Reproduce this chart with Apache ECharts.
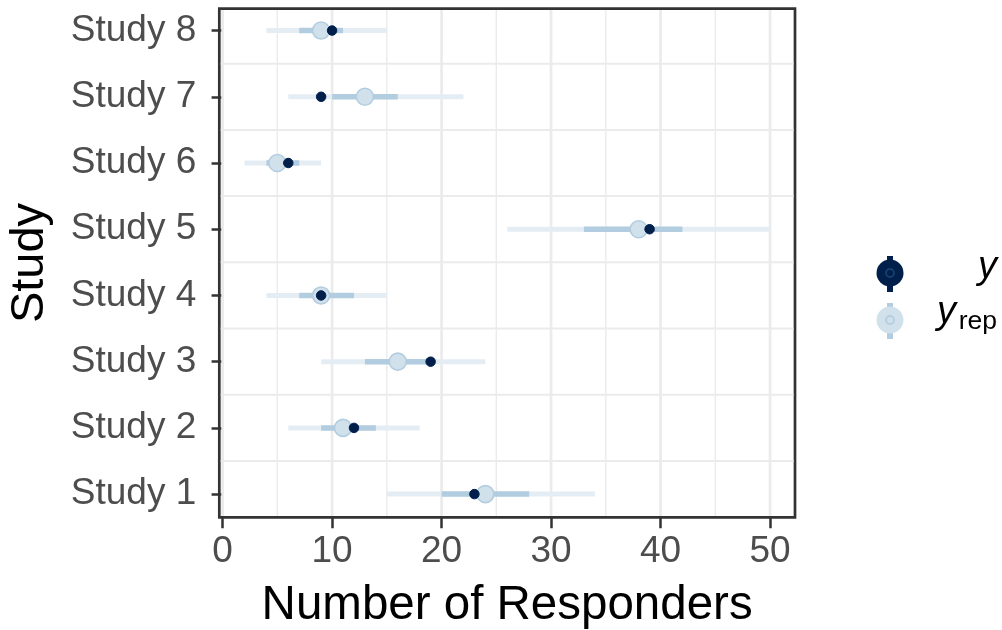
<!DOCTYPE html>
<html>
<head>
<meta charset="utf-8">
<script src="https://cdn.jsdelivr.net/npm/echarts@6/dist/echarts.min.js"></script>
<style>html,body{margin:0;padding:0;background:#fff;}#c{width:1002px;height:630px;}</style>
</head>
<body>
<div id="c"></div>
<script>
const studies = ['Study 1','Study 2','Study 3','Study 4','Study 5','Study 6','Study 7','Study 8'];
const studyPos = [1,2,3,4,5,6,7,8];
const yObs = [23,12,19,9,39,6,9,10];
const yrepMedian = [24,11,16,9,38,5,13,9];
const inner50Low = [20,9,13,7,33,4,10,7];
const inner50High = [28,14,19,12,42,7,16,11];
const outer90Low = [15,6,9,4,26,2,6,4];
const outer90High = [34,18,24,15,50,9,22,15];
const xTicks = [0,10,20,30,40,50];
const xMinorGrid = [5,15,25,35,45];
const yGridLines = [1.5,2.5,3.5,4.5,5.5,6.5,7.5];

const X_MIN = -0.3, X_MAX = 52.28, Y_MIN = 0.65, Y_MAX = 8.33;
const FONT = "'Liberation Sans', Arial, Helvetica, sans-serif";
const chart = echarts.init(document.getElementById('c'), null, {renderer:'canvas'});

function vLines(values, width){
  return {
    type:'custom', silent:true, z:1,
    data: values.map(v=>[v]),
    encode:{x:0},
    renderItem:function(params, api){
      const p1 = api.coord([api.value(0), Y_MIN]);
      const p2 = api.coord([api.value(0), Y_MAX]);
      return {type:'line', shape:{x1:p1[0],y1:p1[1]-1.4,x2:p2[0],y2:p2[1]+1.4}, style:{stroke:'#ebebeb', lineWidth:width}};
    }
  };
}
function hLines(values, width){
  return {
    type:'custom', silent:true, z:1,
    data: values.map(v=>[v]),
    encode:{y:0},
    renderItem:function(params, api){
      const p1 = api.coord([X_MIN, api.value(0)]);
      const p2 = api.coord([X_MAX, api.value(0)]);
      return {type:'line', shape:{x1:p1[0]+1.4,y1:p1[1],x2:p2[0]-1.4,y2:p2[1]}, style:{stroke:'#ebebeb', lineWidth:width}};
    }
  };
}
function intervals(lo, hi, color, width, z){
  return {
    type:'custom', silent:true, z:z,
    data: studyPos.map((s,i)=>[lo[i], hi[i], s]),
    encode:{x:[0,1], y:2},
    renderItem:function(params, api){
      const p1 = api.coord([api.value(0), api.value(2)]);
      const p2 = api.coord([api.value(1), api.value(2)]);
      return {type:'line', shape:{x1:p1[0],y1:p1[1],x2:p2[0],y2:p2[1]}, style:{stroke:color, lineWidth:width, lineCap:'butt'}};
    }
  };
}

const option = {
  backgroundColor:'#ffffff',
  animation:false,
  grid:{left:219.3, top:8.7, width:575.7, height:508.6, show:true, borderColor:'#333333', borderWidth:2.7, backgroundColor:'#ffffff',
        containLabel:false, outerBoundsMode:'none'},
  xAxis:{
    type:'value', min:X_MIN, max:X_MAX,
    name:'Number of Responders', nameLocation:'middle', nameGap:65,
    nameTextStyle:{fontFamily:FONT, fontSize:47.5, color:'#000000'},
    axisLine:{show:false},
    axisTick:{show:true, length:11, inside:false, customValues:xTicks, lineStyle:{color:'#333333', width:2.5}},
    axisLabel:{customValues:xTicks, margin:16, fontFamily:FONT, fontSize:37, color:'#4d4d4d'},
    splitLine:{show:false}
  },
  yAxis:{
    type:'value', min:Y_MIN, max:Y_MAX,
    name:'Study', nameLocation:'middle', nameGap:166, nameRotate:90,
    nameTextStyle:{fontFamily:FONT, fontSize:47, color:'#000000'},
    axisLine:{show:false},
    axisTick:{show:true, length:11, customValues:studyPos, lineStyle:{color:'#333333', width:2.5}},
    axisLabel:{customValues:studyPos, margin:23, fontFamily:FONT, fontSize:37, color:'#4d4d4d', padding:[3,0,0,0],
      formatter:function(v){ const i = studyPos.indexOf(Math.round(v)); return i>=0 ? studies[i] : ''; }},
    splitLine:{show:false}
  },
  series:[
    vLines(xMinorGrid, 1.4),
    vLines(xTicks, 2.7),
    hLines(yGridLines, 2),
    intervals(outer90Low, outer90High, '#e5edf4', 5, 3),
    intervals(inner50Low, inner50High, '#b3cde0', 5.5, 4),
    {type:'scatter', z:5, silent:true, symbol:'circle', symbolSize:17,
     data: studyPos.map((s,i)=>[yrepMedian[i], s]),
     itemStyle:{color:'#d1e1ec', borderColor:'#b3cde0', borderWidth:1.6, opacity:1}},
    {type:'scatter', z:6, silent:true, symbol:'circle', symbolSize:9.5,
     data: studyPos.map((s,i)=>[yObs[i], s]),
     itemStyle:{color:'#011f4b', borderColor:'#011f4b', borderWidth:1, opacity:1}}
  ],
  graphic:[
    {type:'line', shape:{x1:890,y1:256,x2:890,y2:292}, style:{stroke:'#011f4b', lineWidth:6}},
    {type:'circle', shape:{cx:890, cy:273, r:13.5}, style:{fill:'#011f4b'}},
    {type:'circle', shape:{cx:890, cy:273, r:4}, style:{fill:'none', stroke:'#16406f', lineWidth:1.8}},
    {type:'line', shape:{x1:890,y1:303,x2:890,y2:339}, style:{stroke:'#b3cde0', lineWidth:6}},
    {type:'circle', shape:{cx:890, cy:320, r:13.5}, style:{fill:'#d1e1ec'}},
    {type:'circle', shape:{cx:890, cy:320, r:4}, style:{fill:'none', stroke:'#b3cde0', lineWidth:1.8}},
    {type:'text', x:997, y:267, style:{text:'y', fontFamily:FONT, fontStyle:'italic', fontSize:38, fill:'#000000', align:'right', verticalAlign:'middle'}},
    {type:'text', x:956, y:312, style:{text:'y', fontFamily:FONT, fontStyle:'italic', fontSize:38, fill:'#000000', align:'right', verticalAlign:'middle'}},
    {type:'text', x:997, y:322, style:{text:'rep', fontFamily:FONT, fontSize:26.5, fill:'#000000', align:'right', verticalAlign:'middle'}}
  ]
};
chart.setOption(option);
</script>
</body>
</html>
